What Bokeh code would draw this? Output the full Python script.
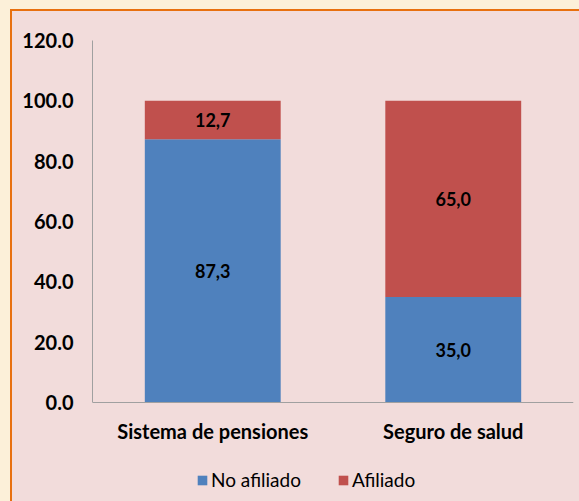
from bokeh.plotting import figure
from bokeh.models import (ColumnDataSource, FactorRange, Range1d, NumeralTickFormatter, FixedTicker,
                          LabelSet, Legend, LegendItem, Span)
from bokeh.core.properties import value
from bokeh.embed import file_html
from bokeh.resources import INLINE

categories = ["Sistema de pensiones", "Seguro de salud"]
no_afiliado = [87.3, 35.0]
afiliado = [12.7, 65.0]
y_ticks = [0, 20, 40, 60, 80, 100, 120]
series_names = ["No afiliado", "Afiliado"]
colors = ["#4f81bd", "#c0504d"]

FONT = "Lato"

# frame: 362 px for 0..120, plus 97 px below the baseline for category labels and legend
PLOT_H = 362
EXTRA_H = 97
y_max = 120
y_min = -y_max * EXTRA_H / PLOT_H

src = ColumnDataSource(dict(cat=categories, no=no_afiliado, af=afiliado))

p = figure(x_range=FactorRange(factors=categories, range_padding=0),
           y_range=Range1d(y_min, y_max), x_axis_location=None,
           frame_width=481, frame_height=PLOT_H + EXTRA_H, output_backend="svg", toolbar_location=None,
           min_border_left=80, min_border_right=6, min_border_top=29, min_border_bottom=0)

p.background_fill_color = "#f2dcdb"
p.border_fill_color = "#f2dcdb"
p.outline_line_color = None
p.grid.visible = False

r = p.vbar_stack(["no", "af"], x="cat", width=0.565, source=src, color=colors, line_color=None)

# baseline (category axis line)
p.add_layout(Span(location=0, dimension="width", line_color="#a0a0a0", line_width=1))

# segment value labels at midpoints
mid_no = [v / 2 for v in no_afiliado]
mid_af = [n + a / 2 for n, a in zip(no_afiliado, afiliado)]
lab_src = ColumnDataSource(dict(
    x=categories + categories,
    y=mid_no + mid_af,
    t=[f"{v:.1f}".replace(".", ",") for v in no_afiliado + afiliado],
))
p.add_layout(LabelSet(x="x", y="y", text="t", source=lab_src, text_align="center", text_baseline="middle",
                      text_font=value(FONT), text_font_style="bold", text_font_size="18px",
                      text_color="#000000"))

# category labels below the baseline
cat_src = ColumnDataSource(dict(x=categories, y=[0] * len(categories), t=categories))
p.add_layout(LabelSet(x="x", y="y", text="t", source=cat_src, y_offset=-28,
                      text_align="center", text_baseline="middle",
                      text_font=value(FONT), text_font_style="bold", text_font_size="20px",
                      text_color="#000000"))

ax = p.yaxis[0]
ax.ticker = FixedTicker(ticks=y_ticks)
ax.bounds = (0, y_max)
ax.formatter = NumeralTickFormatter(format="0.0")
ax.axis_line_color = "#a0a0a0"
ax.major_tick_line_color = None
ax.minor_tick_line_color = None
ax.major_label_standoff = 13
ax.major_label_text_font = FONT
ax.major_label_text_font_style = "bold"
ax.major_label_text_font_size = "20px"
ax.major_label_text_color = "#000000"

legend = Legend(items=[LegendItem(label=series_names[i], renderers=[r[i]]) for i in range(2)],
                orientation="horizontal", location=(104, 8),
                glyph_width=12, glyph_height=12, label_standoff=3, spacing=36,
                label_text_font=FONT, label_text_font_size="19px", label_text_color="#000000",
                border_line_color=None, background_fill_alpha=0, margin=0, padding=4)
p.add_layout(legend)

css = ("<style>html{background:#fcf0d9;}"
       "body{margin:9px 0 0 10px;border-left:2px solid #e8700f;border-top:2px solid #e8700f;"
       "background:#f2dcdb;}</style>")
html = file_html(p, INLINE)
html = html.replace("</head>", css + "</head>")
open("out.html", "w").write(html)
